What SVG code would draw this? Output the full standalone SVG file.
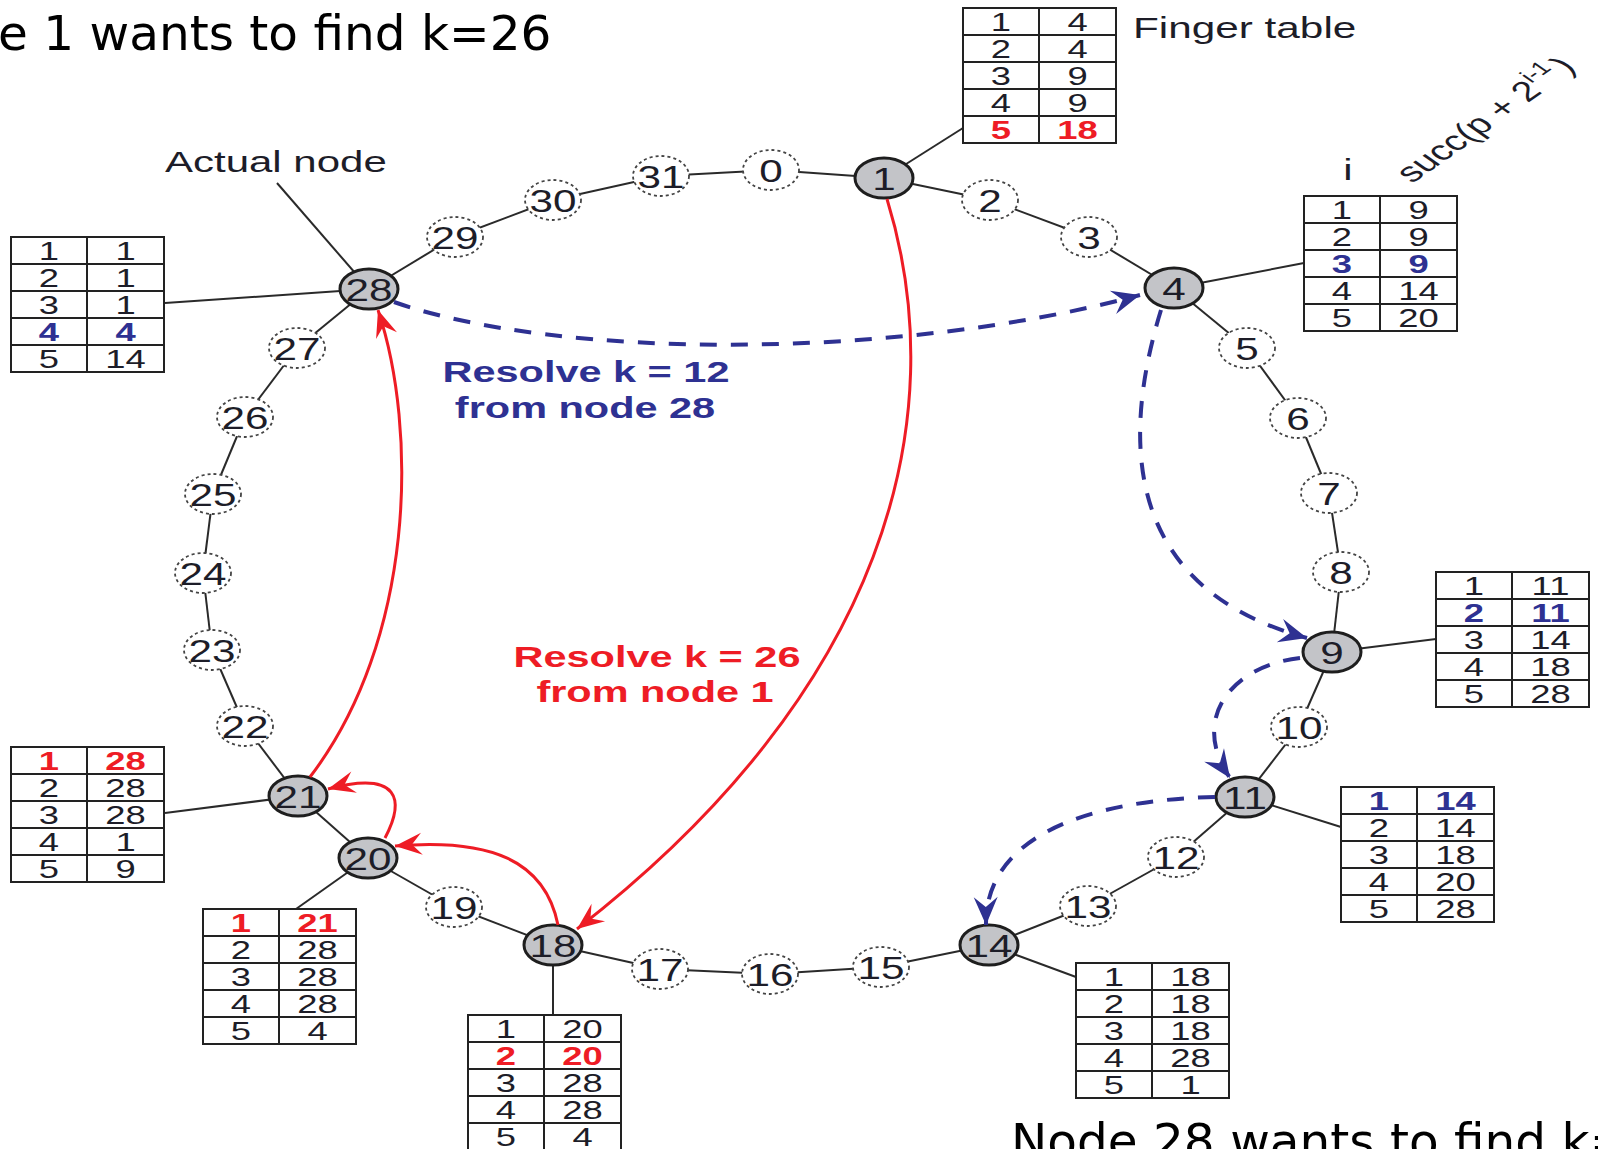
<svg xmlns="http://www.w3.org/2000/svg" xmlns:xlink="http://www.w3.org/1999/xlink" width="1598" height="1149" viewBox="0 0 1598 1149">
  <style>
    .fig { font-family: "Liberation Sans", Arial, Helvetica, sans-serif; fill: #1d1d28; }
    .caption { font-family: "DejaVu Sans", Verdana, sans-serif; font-size: 48.5px; fill: #000; }
    .ring line { stroke: #2a2a2a; stroke-width: 2; }
    .links line { stroke: #2a2a2a; stroke-width: 2; }
    .real ellipse { fill: #c3c4c8; stroke: #1e1e1e; stroke-width: 3; }
    .virt ellipse { fill: #fff; stroke: #444; stroke-width: 1.8; stroke-dasharray: 3 3; }
    .node text { font-size: 32px; text-anchor: middle; }
    .grid rect { fill: #fff; stroke: #222; stroke-width: 2; }
    .grid line { stroke: #222; stroke-width: 2; }
    .table text { font-size: 26px; text-anchor: middle; }
    .table text.r { fill: #ee1c25; font-weight: bold; }
    .table text.b { fill: #2e3192; font-weight: bold; }
    .note { font-size: 30px; }
    .hopR { fill: none; stroke: #ee1c25; stroke-width: 3; marker-end: url(#ahR); }
    .hopB { fill: none; stroke: #2e3192; stroke-width: 4; stroke-dasharray: 17 14; marker-end: url(#ahB); }
    .res { font-size: 29px; font-weight: bold; text-anchor: middle; }
  </style>
  <defs>
    <marker id="ahR" viewBox="-30 -14 32 28" refX="0" refY="0" markerWidth="32" markerHeight="28" markerUnits="userSpaceOnUse" orient="auto">
      <path d="M0,0 L-27,-11 L-17,0 L-27,11 Z" fill="#ee1c25"/>
    </marker>
    <marker id="ahB" viewBox="-30 -14 32 28" refX="0" refY="0" markerWidth="32" markerHeight="28" markerUnits="userSpaceOnUse" orient="auto">
      <path d="M0,0 L-28,-12 L-18,0 L-28,12 Z" fill="#2e3192"/>
    </marker>
    <!-- empty 2 x 5 finger-table grid -->
    <g id="grid" class="grid">
      <rect x="0" y="0" width="153" height="135"/>
      <line x1="76" y1="0" x2="76" y2="135"/>
      <line x1="0" y1="27" x2="153" y2="27"/>
      <line x1="0" y1="54" x2="153" y2="54"/>
      <line x1="0" y1="81" x2="153" y2="81"/>
      <line x1="0" y1="108" x2="153" y2="108"/>
    </g>
  </defs>

  <rect width="1598" height="1149" fill="#fff"/>

  <!-- slide captions -->
  <text class="caption" x="-2" y="50">e 1 wants to find k=26</text>
  <text class="caption" x="1011" y="1158" font-size="47.5">Node 28 wants to find k=</text>

  <g class="fig">
    <!-- ring of identifiers 0..31 -->
    <g id="ring" class="ring">
      <line x1="771" y1="170" x2="884" y2="178"/>
      <line x1="884" y1="178" x2="990" y2="200"/>
      <line x1="990" y1="200" x2="1089" y2="237"/>
      <line x1="1089" y1="237" x2="1174" y2="288"/>
      <line x1="1174" y1="288" x2="1247" y2="348"/>
      <line x1="1247" y1="348" x2="1298" y2="418"/>
      <line x1="1298" y1="418" x2="1329" y2="493"/>
      <line x1="1329" y1="493" x2="1341" y2="572"/>
      <line x1="1341" y1="572" x2="1332" y2="652"/>
      <line x1="1332" y1="652" x2="1299" y2="727"/>
      <line x1="1299" y1="727" x2="1245" y2="797"/>
      <line x1="1245" y1="797" x2="1176" y2="857"/>
      <line x1="1176" y1="857" x2="1088" y2="906"/>
      <line x1="1088" y1="906" x2="989" y2="945"/>
      <line x1="989" y1="945" x2="881" y2="967"/>
      <line x1="881" y1="967" x2="770" y2="974"/>
      <line x1="770" y1="974" x2="660" y2="969"/>
      <line x1="660" y1="969" x2="553" y2="945"/>
      <line x1="553" y1="945" x2="454" y2="907"/>
      <line x1="454" y1="907" x2="368" y2="858"/>
      <line x1="368" y1="858" x2="298" y2="796"/>
      <line x1="298" y1="796" x2="245" y2="726"/>
      <line x1="245" y1="726" x2="212" y2="650"/>
      <line x1="212" y1="650" x2="203" y2="573"/>
      <line x1="203" y1="573" x2="213" y2="494"/>
      <line x1="213" y1="494" x2="245" y2="417"/>
      <line x1="245" y1="417" x2="297" y2="348"/>
      <line x1="297" y1="348" x2="369" y2="289"/>
      <line x1="369" y1="289" x2="455" y2="237"/>
      <line x1="455" y1="237" x2="553" y2="200"/>
      <line x1="553" y1="200" x2="661" y2="176"/>
      <line x1="661" y1="176" x2="771" y2="170"/>
    </g>

    <!-- leader lines from actual nodes to their finger tables -->
    <g id="links" class="links">
      <line x1="884" y1="178" x2="963" y2="128"/>
      <line x1="1174" y1="288" x2="1304" y2="263"/>
      <line x1="1332" y1="652" x2="1436" y2="639"/>
      <line x1="1245" y1="797" x2="1341" y2="827"/>
      <line x1="989" y1="945" x2="1076" y2="977"/>
      <line x1="553" y1="945" x2="553" y2="1016"/>
      <line x1="368" y1="858" x2="296" y2="909"/>
      <line x1="298" y1="796" x2="165" y2="813"/>
      <line x1="369" y1="289" x2="165" y2="303"/>
      <line x1="277" y1="183" x2="369" y2="289"/>
    </g>

    <!-- identifiers without a node -->
    <g id="v0" class="node virt" transform="translate(771,170)"><ellipse rx="28" ry="20"/><text transform="scale(1.32,1)" y="11.5">0</text></g>
    <g id="v2" class="node virt" transform="translate(990,200)"><ellipse rx="28" ry="20"/><text transform="scale(1.32,1)" y="11.5">2</text></g>
    <g id="v3" class="node virt" transform="translate(1089,237)"><ellipse rx="28" ry="20"/><text transform="scale(1.32,1)" y="11.5">3</text></g>
    <g id="v5" class="node virt" transform="translate(1247,348)"><ellipse rx="28" ry="20"/><text transform="scale(1.32,1)" y="11.5">5</text></g>
    <g id="v6" class="node virt" transform="translate(1298,418)"><ellipse rx="28" ry="20"/><text transform="scale(1.32,1)" y="11.5">6</text></g>
    <g id="v7" class="node virt" transform="translate(1329,493)"><ellipse rx="28" ry="20"/><text transform="scale(1.32,1)" y="11.5">7</text></g>
    <g id="v8" class="node virt" transform="translate(1341,572)"><ellipse rx="28" ry="20"/><text transform="scale(1.32,1)" y="11.5">8</text></g>
    <g id="v10" class="node virt" transform="translate(1299,727)"><ellipse rx="28" ry="20"/><text transform="scale(1.32,1)" y="11.5">10</text></g>
    <g id="v12" class="node virt" transform="translate(1176,857)"><ellipse rx="28" ry="20"/><text transform="scale(1.32,1)" y="11.5">12</text></g>
    <g id="v13" class="node virt" transform="translate(1088,906)"><ellipse rx="28" ry="20"/><text transform="scale(1.32,1)" y="11.5">13</text></g>
    <g id="v15" class="node virt" transform="translate(881,967)"><ellipse rx="28" ry="20"/><text transform="scale(1.32,1)" y="11.5">15</text></g>
    <g id="v16" class="node virt" transform="translate(770,974)"><ellipse rx="28" ry="20"/><text transform="scale(1.32,1)" y="11.5">16</text></g>
    <g id="v17" class="node virt" transform="translate(660,969)"><ellipse rx="28" ry="20"/><text transform="scale(1.32,1)" y="11.5">17</text></g>
    <g id="v19" class="node virt" transform="translate(454,907)"><ellipse rx="28" ry="20"/><text transform="scale(1.32,1)" y="11.5">19</text></g>
    <g id="v22" class="node virt" transform="translate(245,726)"><ellipse rx="28" ry="20"/><text transform="scale(1.32,1)" y="11.5">22</text></g>
    <g id="v23" class="node virt" transform="translate(212,650)"><ellipse rx="28" ry="20"/><text transform="scale(1.32,1)" y="11.5">23</text></g>
    <g id="v24" class="node virt" transform="translate(203,573)"><ellipse rx="28" ry="20"/><text transform="scale(1.32,1)" y="11.5">24</text></g>
    <g id="v25" class="node virt" transform="translate(213,494)"><ellipse rx="28" ry="20"/><text transform="scale(1.32,1)" y="11.5">25</text></g>
    <g id="v26" class="node virt" transform="translate(245,417)"><ellipse rx="28" ry="20"/><text transform="scale(1.32,1)" y="11.5">26</text></g>
    <g id="v27" class="node virt" transform="translate(297,348)"><ellipse rx="28" ry="20"/><text transform="scale(1.32,1)" y="11.5">27</text></g>
    <g id="v29" class="node virt" transform="translate(455,237)"><ellipse rx="28" ry="20"/><text transform="scale(1.32,1)" y="11.5">29</text></g>
    <g id="v30" class="node virt" transform="translate(553,200)"><ellipse rx="28" ry="20"/><text transform="scale(1.32,1)" y="11.5">30</text></g>
    <g id="v31" class="node virt" transform="translate(661,176)"><ellipse rx="28" ry="20"/><text transform="scale(1.32,1)" y="11.5">31</text></g>

    <!-- actual nodes -->
    <g id="n1" class="node real" transform="translate(884,178)"><ellipse rx="29" ry="20"/><text transform="scale(1.32,1)" y="11.5">1</text></g>
    <g id="n4" class="node real" transform="translate(1174,288)"><ellipse rx="29" ry="20"/><text transform="scale(1.32,1)" y="11.5">4</text></g>
    <g id="n9" class="node real" transform="translate(1332,652)"><ellipse rx="29" ry="20"/><text transform="scale(1.32,1)" y="11.5">9</text></g>
    <g id="n11" class="node real" transform="translate(1245,797)"><ellipse rx="29" ry="20"/><text transform="scale(1.32,1)" y="11.5">11</text></g>
    <g id="n14" class="node real" transform="translate(989,945)"><ellipse rx="29" ry="20"/><text transform="scale(1.32,1)" y="11.5">14</text></g>
    <g id="n18" class="node real" transform="translate(553,945)"><ellipse rx="29" ry="20"/><text transform="scale(1.32,1)" y="11.5">18</text></g>
    <g id="n20" class="node real" transform="translate(368,858)"><ellipse rx="29" ry="20"/><text transform="scale(1.32,1)" y="11.5">20</text></g>
    <g id="n21" class="node real" transform="translate(298,796)"><ellipse rx="29" ry="20"/><text transform="scale(1.32,1)" y="11.5">21</text></g>
    <g id="n28" class="node real" transform="translate(369,289)"><ellipse rx="29" ry="20"/><text transform="scale(1.32,1)" y="11.5">28</text></g>

    <!-- finger tables: column i and succ(p + 2^(i-1)) -->
    <g id="ft1" class="table" transform="translate(963,8)">
      <use xlink:href="#grid"/>
      <g transform="scale(1.4,1)">
        <text x="27.1" y="22.8">1</text><text x="81.8" y="22.8">4</text>
        <text x="27.1" y="49.8">2</text><text x="81.8" y="49.8">4</text>
        <text x="27.1" y="76.8">3</text><text x="81.8" y="76.8">9</text>
        <text x="27.1" y="103.8">4</text><text x="81.8" y="103.8">9</text>
        <text class="r" x="27.1" y="130.8">5</text><text class="r" x="81.8" y="130.8">18</text>
      </g>
    </g>
    <g id="ft4" class="table" transform="translate(1304,196)">
      <use xlink:href="#grid"/>
      <g transform="scale(1.4,1)">
        <text x="27.1" y="22.8">1</text><text x="81.8" y="22.8">9</text>
        <text x="27.1" y="49.8">2</text><text x="81.8" y="49.8">9</text>
        <text class="b" x="27.1" y="76.8">3</text><text class="b" x="81.8" y="76.8">9</text>
        <text x="27.1" y="103.8">4</text><text x="81.8" y="103.8">14</text>
        <text x="27.1" y="130.8">5</text><text x="81.8" y="130.8">20</text>
      </g>
    </g>
    <g id="ft9" class="table" transform="translate(1436,572)">
      <use xlink:href="#grid"/>
      <g transform="scale(1.4,1)">
        <text x="27.1" y="22.8">1</text><text x="81.8" y="22.8">11</text>
        <text class="b" x="27.1" y="49.8">2</text><text class="b" x="81.8" y="49.8">11</text>
        <text x="27.1" y="76.8">3</text><text x="81.8" y="76.8">14</text>
        <text x="27.1" y="103.8">4</text><text x="81.8" y="103.8">18</text>
        <text x="27.1" y="130.8">5</text><text x="81.8" y="130.8">28</text>
      </g>
    </g>
    <g id="ft11" class="table" transform="translate(1341,787)">
      <use xlink:href="#grid"/>
      <g transform="scale(1.4,1)">
        <text class="b" x="27.1" y="22.8">1</text><text class="b" x="81.8" y="22.8">14</text>
        <text x="27.1" y="49.8">2</text><text x="81.8" y="49.8">14</text>
        <text x="27.1" y="76.8">3</text><text x="81.8" y="76.8">18</text>
        <text x="27.1" y="103.8">4</text><text x="81.8" y="103.8">20</text>
        <text x="27.1" y="130.8">5</text><text x="81.8" y="130.8">28</text>
      </g>
    </g>
    <g id="ft14" class="table" transform="translate(1076,963)">
      <use xlink:href="#grid"/>
      <g transform="scale(1.4,1)">
        <text x="27.1" y="22.8">1</text><text x="81.8" y="22.8">18</text>
        <text x="27.1" y="49.8">2</text><text x="81.8" y="49.8">18</text>
        <text x="27.1" y="76.8">3</text><text x="81.8" y="76.8">18</text>
        <text x="27.1" y="103.8">4</text><text x="81.8" y="103.8">28</text>
        <text x="27.1" y="130.8">5</text><text x="81.8" y="130.8">1</text>
      </g>
    </g>
    <g id="ft18" class="table" transform="translate(468,1015)">
      <use xlink:href="#grid"/>
      <g transform="scale(1.4,1)">
        <text x="27.1" y="22.8">1</text><text x="81.8" y="22.8">20</text>
        <text class="r" x="27.1" y="49.8">2</text><text class="r" x="81.8" y="49.8">20</text>
        <text x="27.1" y="76.8">3</text><text x="81.8" y="76.8">28</text>
        <text x="27.1" y="103.8">4</text><text x="81.8" y="103.8">28</text>
        <text x="27.1" y="130.8">5</text><text x="81.8" y="130.8">4</text>
      </g>
    </g>
    <g id="ft20" class="table" transform="translate(203,909)">
      <use xlink:href="#grid"/>
      <g transform="scale(1.4,1)">
        <text class="r" x="27.1" y="22.8">1</text><text class="r" x="81.8" y="22.8">21</text>
        <text x="27.1" y="49.8">2</text><text x="81.8" y="49.8">28</text>
        <text x="27.1" y="76.8">3</text><text x="81.8" y="76.8">28</text>
        <text x="27.1" y="103.8">4</text><text x="81.8" y="103.8">28</text>
        <text x="27.1" y="130.8">5</text><text x="81.8" y="130.8">4</text>
      </g>
    </g>
    <g id="ft21" class="table" transform="translate(11,747)">
      <use xlink:href="#grid"/>
      <g transform="scale(1.4,1)">
        <text class="r" x="27.1" y="22.8">1</text><text class="r" x="81.8" y="22.8">28</text>
        <text x="27.1" y="49.8">2</text><text x="81.8" y="49.8">28</text>
        <text x="27.1" y="76.8">3</text><text x="81.8" y="76.8">28</text>
        <text x="27.1" y="103.8">4</text><text x="81.8" y="103.8">1</text>
        <text x="27.1" y="130.8">5</text><text x="81.8" y="130.8">9</text>
      </g>
    </g>
    <g id="ft28" class="table" transform="translate(11,237)">
      <use xlink:href="#grid"/>
      <g transform="scale(1.4,1)">
        <text x="27.1" y="22.8">1</text><text x="81.8" y="22.8">1</text>
        <text x="27.1" y="49.8">2</text><text x="81.8" y="49.8">1</text>
        <text x="27.1" y="76.8">3</text><text x="81.8" y="76.8">1</text>
        <text class="b" x="27.1" y="103.8">4</text><text class="b" x="81.8" y="103.8">4</text>
        <text x="27.1" y="130.8">5</text><text x="81.8" y="130.8">14</text>
      </g>
    </g>

    <!-- annotations -->
    <text class="note" transform="matrix(1.41 0 0 1 1133 38)">Finger table</text>
    <text class="note" transform="matrix(1.4 0 0 1 165 172)">Actual node</text>
    <text class="note" text-anchor="middle" transform="matrix(1.4 0 0 1 1348 180)">i</text>
    <text font-size="28" transform="matrix(1.011 -0.707 1.011 0.707 1412 184)">succ(p + 2<tspan font-size="19" dy="-12">i-1</tspan><tspan dx="3" dy="12">)</tspan></text>

    <!-- lookup hops -->
    <g id="hops">
      <path class="hopB" d="M394,302 C560,360 900,360 1140,295"/>
      <path class="hopB" d="M1161,310 C1118,450 1130,590 1307,638"/>
      <path class="hopB" d="M1300,658 C1230,666 1190,720 1230,778"/>
      <path class="hopB" d="M1215,797 C1090,800 985,835 986,925"/>
      <path class="hopR" d="M887,199 C955,420 885,690 577,929"/>
      <path class="hopR" d="M558,925 C545,860 490,838 395,846"/>
      <path class="hopR" d="M385,838 C405,800 400,770 328,789"/>
      <path class="hopR" d="M310,777 C415,640 418,430 378,310"/>
    </g>

    <text class="res" fill="#2e3192" transform="matrix(1.43 0 0 1 586 382)">Resolve k = 12</text>
    <text class="res" fill="#2e3192" transform="matrix(1.43 0 0 1 585 418)">from node 28</text>
    <text class="res" fill="#ee1c25" transform="matrix(1.43 0 0 1 657 667)">Resolve k = 26</text>
    <text class="res" fill="#ee1c25" transform="matrix(1.43 0 0 1 655 702)">from node 1</text>
  </g>
</svg>
